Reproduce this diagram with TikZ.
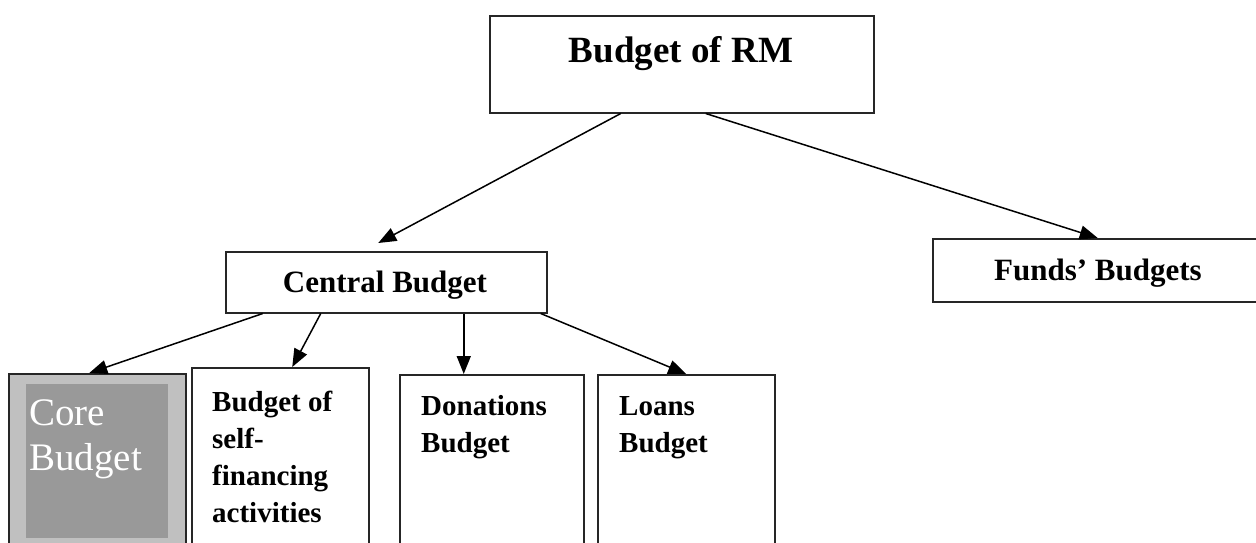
\documentclass[tikz,border=0pt]{standalone}
\usepackage{fontspec}
\setmainfont{Liberation Serif}
\usetikzlibrary{arrows.meta,calc}
\definecolor{outergray}{HTML}{C0C0C0}
\definecolor{innergray}{HTML}{999999}
\tikzset{
  box/.style={draw=black!85, line width=1.5pt, rectangle, inner sep=0pt, anchor=north west},
  conn/.style={line width=1.5pt, -{Triangle[length=18pt,width=14pt]}},
  boxtext/.style={anchor=base west, inner sep=0pt, align=left, font=\fontsize{29}{37}\selectfont\bfseries},
}
\begin{document}
\begin{tikzpicture}[x=1pt,y=-1pt]
\useasboundingbox (0,0) rectangle (1256,542);
\clip (0,0) rectangle (1256,542);
% top
\node[box, minimum width=384pt, minimum height=97pt] (rm) at (489,15) {};
\node[anchor=base, inner sep=0pt, font=\fontsize{37}{40}\selectfont\bfseries] (rmt) at (681,62) {Budget of RM};
% central
\node[box, minimum width=321pt, minimum height=61pt] (central) at (225,251) {};
\node[anchor=base, inner sep=0pt, font=\fontsize{31}{34}\selectfont\bfseries] (centralt) at (385,292) {Central Budget};
% funds
\node[box, minimum width=330pt, minimum height=63pt] (funds) at (932,238) {};
\node[anchor=base, inner sep=0pt, font=\fontsize{31}{34}\selectfont\bfseries] (fundst) at (1098,280) {Funds’ Budgets};
% bottom boxes
\node[box, fill=outergray, minimum width=177pt, minimum height=200pt] (core) at (8,373) {};
\node[anchor=north west, fill=innergray, inner sep=0pt, minimum width=142pt, minimum height=154pt] (corein) at (26,384) {};
\node[anchor=base west, inner sep=0pt, text=white, align=left, font=\fontsize{39}{45}\selectfont] (coret) at (29,470) {Core\\Budget};
\node[box, minimum width=177pt, minimum height=200pt] (self) at (191,367) {};
\node[boxtext] (selft) at (212,522) {Budget of\\self-\\financing\\activities};
\node[box, minimum width=184pt, minimum height=200pt] (don) at (399,374) {};
\node[boxtext] (dont) at (421,452) {Donations\\Budget};
\node[box, minimum width=177pt, minimum height=200pt] (loans) at (597,374) {};
\node[boxtext] (loanst) at (619,452) {Loans\\Budget};
% connectors
\draw[conn] ($(rm.south)+(-61,0)$) -- ($(central.north)+(-8,-8)$);
\draw[conn] ($(rm.south)+(24,0)$) -- (funds.north);
\draw[conn] ($(central.south)+(-123.5,0)$) -- ($(core.north)+(-8,0)$);
\draw[conn] ($(central.south)+(-65.5,0)$) -- ($(self.north)+(12,0)$);
\draw[conn] ($(central.south)+(77.5,0)$) -- ($(don.north)+(-28,0)$);
\draw[conn] ($(central.south)+(154.5,0)$) -- (loans.north);
\end{tikzpicture}
\end{document}
